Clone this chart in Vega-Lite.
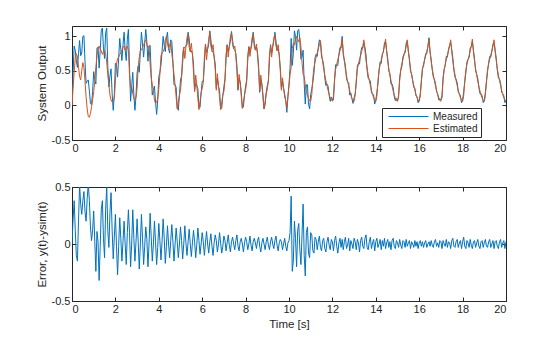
{
"$schema": "https://vega.github.io/schema/vega-lite/v6.json",
"padding": {"left": 35, "top": 25, "right": 5, "bottom": 5},
"background": "white",
"config": {
  "font": "Liberation Sans",
  "view": {"stroke": "#262626", "strokeWidth": 1},
  "axis": {"domain": false, "grid": false, "tickColor": "#262626", "tickSize": -4, "labelPadding": 6, "labelColor": "#262626", "labelFontSize": 11, "titleFontSize": 11.5, "titleFontWeight": "normal", "titleColor": "#262626", "titlePadding": 4},
  "line": {"strokeWidth": 1, "clip": true}
},
"datasets": {"d": [
{"t":0,"m":0,"e":0,"r":0},
{"t":0.05,"m":0.47,"e":0.25,"r":0.22},
{"t":0.1,"m":0.86,"e":0.48,"r":0.38},
{"t":0.15,"m":0.8,"e":0.68,"r":0.12},
{"t":0.2,"m":0.65,"e":0.75,"r":-0.1},
{"t":0.25,"m":0.55,"e":0.7,"r":-0.15},
{"t":0.3,"m":0.75,"e":0.55,"r":0.2},
{"t":0.35,"m":0.94,"e":0.42,"r":0.52},
{"t":0.4,"m":0.72,"e":0.37,"r":0.35},
{"t":0.45,"m":0.76,"e":0.5,"r":0.26},
{"t":0.5,"m":1.0,"e":0.62,"r":0.38},
{"t":0.55,"m":1.01,"e":0.55,"r":0.46},
{"t":0.6,"m":0.63,"e":0.35,"r":0.28},
{"t":0.65,"m":0.32,"e":0.12,"r":0.2},
{"t":0.7,"m":0.35,"e":-0.05,"r":0.4},
{"t":0.75,"m":0.37,"e":-0.16,"r":0.53},
{"t":0.8,"m":0.21,"e":-0.17,"r":0.38},
{"t":0.85,"m":0.03,"e":-0.12,"r":0.15},
{"t":0.9,"m":0.01,"e":-0.02,"r":0.03},
{"t":0.95,"m":0.2,"e":0.08,"r":0.12},
{"t":1.0,"m":0.49,"e":0.2,"r":0.29},
{"t":1.05,"m":0.37,"e":0.35,"r":0.02},
{"t":1.1,"m":0.31,"e":0.55,"r":-0.24},
{"t":1.15,"m":0.83,"e":0.72,"r":0.11},
{"t":1.2,"m":0.84,"e":0.82,"r":0.02},
{"t":1.25,"m":0.54,"e":0.86,"r":-0.32},
{"t":1.3,"m":0.8,"e":0.82,"r":-0.02},
{"t":1.35,"m":1.09,"e":0.79,"r":0.3},
{"t":1.4,"m":1.12,"e":0.74,"r":0.38},
{"t":1.45,"m":0.83,"e":0.78,"r":0.05},
{"t":1.5,"m":0.68,"e":0.8,"r":-0.12},
{"t":1.55,"m":1.05,"e":0.75,"r":0.3},
{"t":1.6,"m":1.12,"e":0.62,"r":0.5},
{"t":1.65,"m":0.57,"e":0.45,"r":0.12},
{"t":1.7,"m":0.27,"e":0.3,"r":-0.03},
{"t":1.75,"m":0.43,"e":0.15,"r":0.28},
{"t":1.8,"m":0.53,"e":0.08,"r":0.45},
{"t":1.85,"m":0.17,"e":0.05,"r":0.12},
{"t":1.9,"m":-0.07,"e":0.06,"r":-0.13},
{"t":1.95,"m":0.16,"e":0.1,"r":0.06},
{"t":2.0,"m":0.61,"e":0.35,"r":0.26},
{"t":2.05,"m":0.58,"e":0.6,"r":-0.02},
{"t":2.1,"m":0.41,"e":0.68,"r":-0.27},
{"t":2.15,"m":0.68,"e":0.7,"r":-0.02},
{"t":2.2,"m":0.97,"e":0.74,"r":0.23},
{"t":2.25,"m":0.81,"e":0.76,"r":0.05},
{"t":2.3,"m":0.65,"e":0.8,"r":-0.15},
{"t":2.35,"m":0.87,"e":0.85,"r":0.02},
{"t":2.4,"m":1.06,"e":0.86,"r":0.2},
{"t":2.45,"m":0.8,"e":0.8,"r":0},
{"t":2.5,"m":0.65,"e":0.83,"r":-0.18},
{"t":2.55,"m":0.96,"e":0.86,"r":0.1},
{"t":2.6,"m":1.1,"e":0.8,"r":0.3},
{"t":2.65,"m":0.55,"e":0.45,"r":0.1},
{"t":2.7,"m":0.06,"e":0.26,"r":-0.2},
{"t":2.75,"m":0.28,"e":0.28,"r":0},
{"t":2.8,"m":0.48,"e":0.18,"r":0.3},
{"t":2.85,"m":0.15,"e":0.1,"r":0.05},
{"t":2.9,"m":-0.07,"e":0.08,"r":-0.15},
{"t":2.95,"m":0.14,"e":0.12,"r":0.02},
{"t":3.0,"m":0.47,"e":0.25,"r":0.22},
{"t":3.05,"m":0.57,"e":0.55,"r":0.02},
{"t":3.1,"m":0.48,"e":0.7,"r":-0.22},
{"t":3.15,"m":0.79,"e":0.79,"r":0},
{"t":3.2,"m":1.06,"e":0.8,"r":0.26},
{"t":3.25,"m":0.89,"e":0.84,"r":0.05},
{"t":3.3,"m":0.7,"e":0.88,"r":-0.18},
{"t":3.35,"m":0.9,"e":0.92,"r":-0.02},
{"t":3.4,"m":1.1,"e":0.95,"r":0.15},
{"t":3.45,"m":0.92,"e":0.88,"r":0.04},
{"t":3.5,"m":0.64,"e":0.84,"r":-0.2},
{"t":3.55,"m":0.86,"e":0.86,"r":0},
{"t":3.6,"m":0.87,"e":0.6,"r":0.27},
{"t":3.65,"m":0.46,"e":0.4,"r":0.06},
{"t":3.7,"m":0.15,"e":0.3,"r":-0.15},
{"t":3.75,"m":0.22,"e":0.22,"r":0},
{"t":3.8,"m":0.28,"e":0.08,"r":0.2},
{"t":3.85,"m":0.05,"e":0.03,"r":0.02},
{"t":3.9,"m":-0.13,"e":0.05,"r":-0.18},
{"t":3.95,"m":0.07,"e":0.1,"r":-0.03},
{"t":4.0,"m":0.42,"e":0.24,"r":0.18},
{"t":4.05,"m":0.48,"e":0.45,"r":0.03},
{"t":4.1,"m":0.58,"e":0.72,"r":-0.14},
{"t":4.15,"m":0.78,"e":0.76,"r":0.02},
{"t":4.2,"m":1.0,"e":0.78,"r":0.22},
{"t":4.25,"m":0.87,"e":0.82,"r":0.05},
{"t":4.3,"m":0.78,"e":0.95,"r":-0.17},
{"t":4.35,"m":0.98,"e":1.0,"r":-0.02},
{"t":4.4,"m":1.06,"e":0.9,"r":0.16},
{"t":4.45,"m":0.82,"e":0.82,"r":0},
{"t":4.5,"m":0.76,"e":0.88,"r":-0.12},
{"t":4.55,"m":0.95,"e":0.92,"r":0.03},
{"t":4.6,"m":0.92,"e":0.75,"r":0.17},
{"t":4.65,"m":0.64,"e":0.62,"r":0.02},
{"t":4.7,"m":0.3,"e":0.45,"r":-0.15},
{"t":4.75,"m":0.3,"e":0.3,"r":0},
{"t":4.8,"m":0.26,"e":0.12,"r":0.14},
{"t":4.85,"m":-0.03,"e":-0.05,"r":0.02},
{"t":4.9,"m":-0.07,"e":0.05,"r":-0.12},
{"t":4.95,"m":0.15,"e":0.15,"r":0},
{"t":5.0,"m":0.37,"e":0.22,"r":0.15},
{"t":5.05,"m":0.43,"e":0.4,"r":0.03},
{"t":5.1,"m":0.62,"e":0.75,"r":-0.13},
{"t":5.15,"m":0.84,"e":0.84,"r":0},
{"t":5.2,"m":0.84,"e":0.68,"r":0.16},
{"t":5.25,"m":0.86,"e":0.85,"r":0.01},
{"t":5.3,"m":0.88,"e":0.98,"r":-0.1},
{"t":5.35,"m":1.06,"e":1.04,"r":0.02},
{"t":5.4,"m":0.97,"e":0.84,"r":0.13},
{"t":5.45,"m":0.78,"e":0.78,"r":0},
{"t":5.5,"m":0.79,"e":0.9,"r":-0.11},
{"t":5.55,"m":0.75,"e":0.74,"r":0.01},
{"t":5.6,"m":0.6,"e":0.48,"r":0.12},
{"t":5.65,"m":0.22,"e":0.2,"r":0.02},
{"t":5.7,"m":0.32,"e":0.44,"r":-0.12},
{"t":5.75,"m":0.29,"e":0.3,"r":-0.01},
{"t":5.8,"m":0.24,"e":0.1,"r":0.14},
{"t":5.85,"m":-0.03,"e":-0.06,"r":0.03},
{"t":5.9,"m":-0.03,"e":0.06,"r":-0.09},
{"t":5.95,"m":0.18,"e":0.18,"r":0},
{"t":6.0,"m":0.35,"e":0.25,"r":0.1},
{"t":6.05,"m":0.35,"e":0.33,"r":0.02},
{"t":6.1,"m":0.6,"e":0.7,"r":-0.1},
{"t":6.15,"m":0.89,"e":0.88,"r":0.01},
{"t":6.2,"m":0.77,"e":0.66,"r":0.11},
{"t":6.25,"m":0.82,"e":0.82,"r":0},
{"t":6.3,"m":0.88,"e":0.96,"r":-0.08},
{"t":6.35,"m":1.08,"e":1.06,"r":0.02},
{"t":6.4,"m":0.95,"e":0.86,"r":0.09},
{"t":6.45,"m":0.78,"e":0.8,"r":-0.02},
{"t":6.5,"m":0.78,"e":0.88,"r":-0.1},
{"t":6.55,"m":0.71,"e":0.7,"r":0.01},
{"t":6.6,"m":0.6,"e":0.52,"r":0.08},
{"t":6.65,"m":0.25,"e":0.22,"r":0.03},
{"t":6.7,"m":0.39,"e":0.46,"r":-0.07},
{"t":6.75,"m":0.28,"e":0.28,"r":0},
{"t":6.8,"m":0.22,"e":0.12,"r":0.1},
{"t":6.85,"m":-0.05,"e":-0.06,"r":0.01},
{"t":6.9,"m":-0.04,"e":0.04,"r":-0.08},
{"t":6.95,"m":0.14,"e":0.16,"r":-0.02},
{"t":7.0,"m":0.27,"e":0.2,"r":0.07},
{"t":7.05,"m":0.39,"e":0.36,"r":0.03},
{"t":7.1,"m":0.68,"e":0.74,"r":-0.06},
{"t":7.15,"m":0.88,"e":0.87,"r":0.01},
{"t":7.2,"m":0.78,"e":0.7,"r":0.08},
{"t":7.25,"m":0.85,"e":0.86,"r":-0.01},
{"t":7.3,"m":0.93,"e":1.0,"r":-0.07},
{"t":7.35,"m":1.07,"e":1.05,"r":0.02},
{"t":7.4,"m":0.94,"e":0.88,"r":0.06},
{"t":7.45,"m":0.82,"e":0.82,"r":0},
{"t":7.5,"m":0.81,"e":0.86,"r":-0.05},
{"t":7.55,"m":0.75,"e":0.72,"r":0.03},
{"t":7.6,"m":0.58,"e":0.5,"r":0.08},
{"t":7.65,"m":0.22,"e":0.24,"r":-0.02},
{"t":7.7,"m":0.39,"e":0.45,"r":-0.06},
{"t":7.75,"m":0.34,"e":0.32,"r":0.02},
{"t":7.8,"m":0.19,"e":0.14,"r":0.05},
{"t":7.85,"m":-0.04,"e":-0.04,"r":0},
{"t":7.9,"m":-0.02,"e":0.05,"r":-0.07},
{"t":7.95,"m":0.16,"e":0.15,"r":0.01},
{"t":8.0,"m":0.28,"e":0.22,"r":0.06},
{"t":8.05,"m":0.37,"e":0.35,"r":0.02},
{"t":8.1,"m":0.67,"e":0.72,"r":-0.05},
{"t":8.15,"m":0.85,"e":0.85,"r":0},
{"t":8.2,"m":0.78,"e":0.71,"r":0.07},
{"t":8.25,"m":0.83,"e":0.84,"r":-0.01},
{"t":8.3,"m":0.92,"e":0.98,"r":-0.06},
{"t":8.35,"m":1.06,"e":1.04,"r":0.02},
{"t":8.4,"m":0.9,"e":0.85,"r":0.05},
{"t":8.45,"m":0.81,"e":0.8,"r":0.01},
{"t":8.5,"m":0.85,"e":0.89,"r":-0.04},
{"t":8.55,"m":0.76,"e":0.73,"r":0.03},
{"t":8.6,"m":0.57,"e":0.51,"r":0.06},
{"t":8.65,"m":0.19,"e":0.21,"r":-0.02},
{"t":8.7,"m":0.37,"e":0.44,"r":-0.07},
{"t":8.75,"m":0.31,"e":0.3,"r":0.01},
{"t":8.8,"m":0.16,"e":0.11,"r":0.05},
{"t":8.85,"m":-0.05,"e":-0.05,"r":0},
{"t":8.9,"m":0.01,"e":0.06,"r":-0.05},
{"t":8.95,"m":0.19,"e":0.17,"r":0.02},
{"t":9.0,"m":0.29,"e":0.23,"r":0.06},
{"t":9.05,"m":0.35,"e":0.36,"r":-0.01},
{"t":9.1,"m":0.68,"e":0.73,"r":-0.05},
{"t":9.15,"m":0.88,"e":0.86,"r":0.02},
{"t":9.2,"m":0.76,"e":0.7,"r":0.06},
{"t":9.25,"m":0.85,"e":0.85,"r":0},
{"t":9.3,"m":0.93,"e":0.97,"r":-0.04},
{"t":9.35,"m":1.06,"e":1.03,"r":0.03},
{"t":9.4,"m":0.93,"e":0.86,"r":0.07},
{"t":9.45,"m":0.79,"e":0.8,"r":-0.01},
{"t":9.5,"m":0.82,"e":0.88,"r":-0.06},
{"t":9.55,"m":0.73,"e":0.72,"r":0.01},
{"t":9.6,"m":0.54,"e":0.5,"r":0.04},
{"t":9.65,"m":0.24,"e":0.22,"r":0.02},
{"t":9.7,"m":0.35,"e":0.4,"r":-0.05},
{"t":9.75,"m":0.25,"e":0.25,"r":0},
{"t":9.8,"m":0.17,"e":0.12,"r":0.05},
{"t":9.85,"m":0.06,"e":0.08,"r":-0.02},
{"t":9.9,"m":-0.1,"e":-0.04,"r":-0.06},
{"t":9.95,"m":0.13,"e":0.12,"r":0.01},
{"t":10.0,"m":0.31,"e":0.28,"r":0.03},
{"t":10.05,"m":0.55,"e":0.45,"r":0.1},
{"t":10.1,"m":0.97,"e":0.55,"r":0.42},
{"t":10.15,"m":0.58,"e":0.82,"r":-0.24},
{"t":10.2,"m":0.75,"e":0.9,"r":-0.15},
{"t":10.25,"m":1.08,"e":0.88,"r":0.2},
{"t":10.3,"m":1.0,"e":0.95,"r":0.05},
{"t":10.35,"m":0.8,"e":1.0,"r":-0.2},
{"t":10.4,"m":1.08,"e":0.96,"r":0.12},
{"t":10.45,"m":1.1,"e":0.92,"r":0.18},
{"t":10.5,"m":0.93,"e":0.98,"r":-0.05},
{"t":10.55,"m":0.67,"e":0.85,"r":-0.18},
{"t":10.6,"m":0.7,"e":0.62,"r":0.08},
{"t":10.65,"m":0.8,"e":0.45,"r":0.35},
{"t":10.7,"m":0.32,"e":0.42,"r":-0.1},
{"t":10.75,"m":0.02,"e":0.3,"r":-0.28},
{"t":10.8,"m":0.3,"e":0.2,"r":0.1},
{"t":10.85,"m":0.3,"e":0.15,"r":0.15},
{"t":10.9,"m":0.02,"e":0.1,"r":-0.08},
{"t":10.95,"m":-0.05,"e":0.07,"r":-0.12},
{"t":11.0,"m":0.16,"e":0.06,"r":0.1},
{"t":11.05,"m":0.24,"e":0.16,"r":0.08},
{"t":11.1,"m":0.34,"e":0.4,"r":-0.06},
{"t":11.15,"m":0.47,"e":0.55,"r":-0.08},
{"t":11.2,"m":0.69,"e":0.63,"r":0.06},
{"t":11.25,"m":0.74,"e":0.7,"r":0.04},
{"t":11.3,"m":0.71,"e":0.76,"r":-0.05},
{"t":11.35,"m":0.84,"e":0.82,"r":0.02},
{"t":11.4,"m":0.95,"e":0.88,"r":0.07},
{"t":11.45,"m":0.91,"e":0.94,"r":-0.03},
{"t":11.5,"m":0.7,"e":0.76,"r":-0.06},
{"t":11.55,"m":0.66,"e":0.63,"r":0.03},
{"t":11.6,"m":0.58,"e":0.53,"r":0.05},
{"t":11.65,"m":0.4,"e":0.44,"r":-0.04},
{"t":11.7,"m":0.29,"e":0.36,"r":-0.07},
{"t":11.75,"m":0.31,"e":0.29,"r":0.02},
{"t":11.8,"m":0.28,"e":0.22,"r":0.06},
{"t":11.85,"m":0.15,"e":0.16,"r":-0.01},
{"t":11.9,"m":0.06,"e":0.11,"r":-0.05},
{"t":11.95,"m":0.12,"e":0.08,"r":0.04},
{"t":12.0,"m":0.08,"e":0.06,"r":0.02},
{"t":12.05,"m":0.08,"e":0.14,"r":-0.06},
{"t":12.1,"m":0.39,"e":0.36,"r":0.03},
{"t":12.15,"m":0.59,"e":0.52,"r":0.07},
{"t":12.2,"m":0.58,"e":0.6,"r":-0.02},
{"t":12.25,"m":0.58,"e":0.66,"r":-0.08},
{"t":12.3,"m":0.74,"e":0.73,"r":0.01},
{"t":12.35,"m":0.84,"e":0.79,"r":0.05},
{"t":12.4,"m":0.83,"e":0.86,"r":-0.03},
{"t":12.45,"m":1.0,"e":0.96,"r":0.04},
{"t":12.5,"m":0.73,"e":0.78,"r":-0.05},
{"t":12.55,"m":0.66,"e":0.64,"r":0.02},
{"t":12.6,"m":0.58,"e":0.52,"r":0.06},
{"t":12.65,"m":0.39,"e":0.43,"r":-0.04},
{"t":12.7,"m":0.34,"e":0.35,"r":-0.01},
{"t":12.75,"m":0.33,"e":0.28,"r":0.05},
{"t":12.8,"m":0.15,"e":0.21,"r":-0.06},
{"t":12.85,"m":0.18,"e":0.15,"r":0.03},
{"t":12.9,"m":0.1,"e":0.1,"r":0},
{"t":12.95,"m":0.03,"e":0.07,"r":-0.04},
{"t":13.0,"m":0.11,"e":0.06,"r":0.05},
{"t":13.05,"m":0.17,"e":0.15,"r":0.02},
{"t":13.1,"m":0.32,"e":0.37,"r":-0.05},
{"t":13.15,"m":0.57,"e":0.53,"r":0.04},
{"t":13.2,"m":0.61,"e":0.6,"r":0.01},
{"t":13.25,"m":0.6,"e":0.67,"r":-0.07},
{"t":13.3,"m":0.75,"e":0.72,"r":0.03},
{"t":13.35,"m":0.84,"e":0.78,"r":0.06},
{"t":13.4,"m":0.83,"e":0.85,"r":-0.02},
{"t":13.45,"m":0.91,"e":0.95,"r":-0.04},
{"t":13.5,"m":0.84,"e":0.79,"r":0.05},
{"t":13.55,"m":0.73,"e":0.65,"r":0.08},
{"t":13.6,"m":0.51,"e":0.54,"r":-0.03},
{"t":13.65,"m":0.39,"e":0.44,"r":-0.05},
{"t":13.7,"m":0.38,"e":0.36,"r":0.02},
{"t":13.75,"m":0.35,"e":0.29,"r":0.06},
{"t":13.8,"m":0.18,"e":0.22,"r":-0.04},
{"t":13.85,"m":0.17,"e":0.16,"r":0.01},
{"t":13.9,"m":0.15,"e":0.11,"r":0.04},
{"t":13.95,"m":0.02,"e":0.08,"r":-0.06},
{"t":14.0,"m":0.08,"e":0.06,"r":0.02},
{"t":14.05,"m":0.19,"e":0.14,"r":0.05},
{"t":14.1,"m":0.32,"e":0.35,"r":-0.03},
{"t":14.15,"m":0.51,"e":0.51,"r":0},
{"t":14.2,"m":0.63,"e":0.59,"r":0.04},
{"t":14.25,"m":0.61,"e":0.66,"r":-0.05},
{"t":14.3,"m":0.75,"e":0.72,"r":0.03},
{"t":14.35,"m":0.77,"e":0.79,"r":-0.02},
{"t":14.4,"m":0.91,"e":0.86,"r":0.05},
{"t":14.45,"m":0.92,"e":0.96,"r":-0.04},
{"t":14.5,"m":0.79,"e":0.78,"r":0.01},
{"t":14.55,"m":0.68,"e":0.64,"r":0.04},
{"t":14.6,"m":0.5,"e":0.53,"r":-0.03},
{"t":14.65,"m":0.46,"e":0.44,"r":0.02},
{"t":14.7,"m":0.31,"e":0.36,"r":-0.05},
{"t":14.75,"m":0.31,"e":0.28,"r":0.03},
{"t":14.8,"m":0.26,"e":0.21,"r":0.05},
{"t":14.85,"m":0.13,"e":0.15,"r":-0.02},
{"t":14.9,"m":0.07,"e":0.11,"r":-0.04},
{"t":14.95,"m":0.1,"e":0.07,"r":0.03},
{"t":15.0,"m":0.07,"e":0.06,"r":0.01},
{"t":15.05,"m":0.12,"e":0.15,"r":-0.03},
{"t":15.1,"m":0.4,"e":0.36,"r":0.04},
{"t":15.15,"m":0.51,"e":0.52,"r":-0.01},
{"t":15.2,"m":0.56,"e":0.6,"r":-0.04},
{"t":15.25,"m":0.7,"e":0.67,"r":0.03},
{"t":15.3,"m":0.75,"e":0.73,"r":0.02},
{"t":15.35,"m":0.76,"e":0.79,"r":-0.03},
{"t":15.4,"m":0.9,"e":0.86,"r":0.04},
{"t":15.45,"m":0.93,"e":0.95,"r":-0.02},
{"t":15.5,"m":0.79,"e":0.78,"r":0.01},
{"t":15.55,"m":0.68,"e":0.65,"r":0.03},
{"t":15.6,"m":0.49,"e":0.53,"r":-0.04},
{"t":15.65,"m":0.46,"e":0.44,"r":0.02},
{"t":15.7,"m":0.36,"e":0.36,"r":0},
{"t":15.75,"m":0.26,"e":0.29,"r":-0.03},
{"t":15.8,"m":0.25,"e":0.22,"r":0.03},
{"t":15.85,"m":0.14,"e":0.16,"r":-0.02},
{"t":15.9,"m":0.13,"e":0.11,"r":0.02},
{"t":15.95,"m":0.04,"e":0.08,"r":-0.04},
{"t":16.0,"m":0.07,"e":0.06,"r":0.01},
{"t":16.05,"m":0.17,"e":0.14,"r":0.03},
{"t":16.1,"m":0.34,"e":0.36,"r":-0.02},
{"t":16.15,"m":0.54,"e":0.52,"r":0.02},
{"t":16.2,"m":0.57,"e":0.6,"r":-0.03},
{"t":16.25,"m":0.67,"e":0.66,"r":0.01},
{"t":16.3,"m":0.75,"e":0.72,"r":0.03},
{"t":16.35,"m":0.75,"e":0.78,"r":-0.03},
{"t":16.4,"m":0.85,"e":0.85,"r":0},
{"t":16.45,"m":0.98,"e":0.96,"r":0.02},
{"t":16.5,"m":0.77,"e":0.79,"r":-0.02},
{"t":16.55,"m":0.67,"e":0.64,"r":0.03},
{"t":16.6,"m":0.52,"e":0.53,"r":-0.01},
{"t":16.65,"m":0.41,"e":0.44,"r":-0.03},
{"t":16.7,"m":0.38,"e":0.36,"r":0.02},
{"t":16.75,"m":0.32,"e":0.28,"r":0.04},
{"t":16.8,"m":0.2,"e":0.22,"r":-0.02},
{"t":16.85,"m":0.17,"e":0.16,"r":0.01},
{"t":16.9,"m":0.08,"e":0.11,"r":-0.03},
{"t":16.95,"m":0.1,"e":0.07,"r":0.03},
{"t":17.0,"m":0.08,"e":0.06,"r":0.02},
{"t":17.05,"m":0.11,"e":0.15,"r":-0.04},
{"t":17.1,"m":0.4,"e":0.37,"r":0.03},
{"t":17.15,"m":0.52,"e":0.52,"r":0},
{"t":17.2,"m":0.58,"e":0.6,"r":-0.02},
{"t":17.25,"m":0.71,"e":0.67,"r":0.04},
{"t":17.3,"m":0.7,"e":0.73,"r":-0.03},
{"t":17.35,"m":0.81,"e":0.79,"r":0.02},
{"t":17.4,"m":0.87,"e":0.86,"r":0.01},
{"t":17.45,"m":0.91,"e":0.95,"r":-0.04},
{"t":17.5,"m":0.81,"e":0.78,"r":0.03},
{"t":17.55,"m":0.69,"e":0.64,"r":0.05},
{"t":17.6,"m":0.51,"e":0.53,"r":-0.02},
{"t":17.65,"m":0.41,"e":0.44,"r":-0.03},
{"t":17.7,"m":0.38,"e":0.36,"r":0.02},
{"t":17.75,"m":0.33,"e":0.29,"r":0.04},
{"t":17.8,"m":0.19,"e":0.22,"r":-0.03},
{"t":17.85,"m":0.17,"e":0.16,"r":0.01},
{"t":17.9,"m":0.14,"e":0.11,"r":0.03},
{"t":17.95,"m":0.04,"e":0.08,"r":-0.04},
{"t":18.0,"m":0.08,"e":0.06,"r":0.02},
{"t":18.05,"m":0.2,"e":0.14,"r":0.06},
{"t":18.1,"m":0.34,"e":0.36,"r":-0.02},
{"t":18.15,"m":0.47,"e":0.51,"r":-0.04},
{"t":18.2,"m":0.63,"e":0.6,"r":0.03},
{"t":18.25,"m":0.67,"e":0.66,"r":0.01},
{"t":18.3,"m":0.69,"e":0.72,"r":-0.03},
{"t":18.35,"m":0.83,"e":0.79,"r":0.04},
{"t":18.4,"m":0.85,"e":0.86,"r":-0.01},
{"t":18.45,"m":0.92,"e":0.96,"r":-0.04},
{"t":18.5,"m":0.8,"e":0.78,"r":0.02},
{"t":18.55,"m":0.67,"e":0.64,"r":0.03},
{"t":18.6,"m":0.5,"e":0.53,"r":-0.03},
{"t":18.65,"m":0.45,"e":0.44,"r":0.01},
{"t":18.7,"m":0.39,"e":0.35,"r":0.04},
{"t":18.75,"m":0.26,"e":0.28,"r":-0.02},
{"t":18.8,"m":0.17,"e":0.21,"r":-0.04},
{"t":18.85,"m":0.17,"e":0.15,"r":0.02},
{"t":18.9,"m":0.14,"e":0.11,"r":0.03},
{"t":18.95,"m":0.04,"e":0.07,"r":-0.03},
{"t":19.0,"m":0.07,"e":0.06,"r":0.01},
{"t":19.05,"m":0.19,"e":0.15,"r":0.04},
{"t":19.1,"m":0.34,"e":0.36,"r":-0.02},
{"t":19.15,"m":0.49,"e":0.52,"r":-0.03},
{"t":19.2,"m":0.62,"e":0.6,"r":0.02},
{"t":19.25,"m":0.71,"e":0.67,"r":0.04},
{"t":19.3,"m":0.7,"e":0.73,"r":-0.03},
{"t":19.35,"m":0.79,"e":0.79,"r":0},
{"t":19.4,"m":0.89,"e":0.86,"r":0.03},
{"t":19.45,"m":0.91,"e":0.95,"r":-0.04},
{"t":19.5,"m":0.8,"e":0.78,"r":0.02},
{"t":19.55,"m":0.68,"e":0.65,"r":0.03},
{"t":19.6,"m":0.51,"e":0.53,"r":-0.02},
{"t":19.65,"m":0.4,"e":0.44,"r":-0.04},
{"t":19.7,"m":0.38,"e":0.36,"r":0.02},
{"t":19.75,"m":0.33,"e":0.29,"r":0.04},
{"t":19.8,"m":0.19,"e":0.22,"r":-0.03},
{"t":19.85,"m":0.17,"e":0.16,"r":0.01},
{"t":19.9,"m":0.14,"e":0.11,"r":0.03},
{"t":19.95,"m":0.04,"e":0.08,"r":-0.04},
{"t":20.0,"m":0.08,"e":0.06,"r":0.02}
]},
"data": {"name": "d"},
"bounds": "flush",
"spacing": 47,
"resolve": {"legend": {"color": "independent"}},
"vconcat": [
  {
    "width": 434, "height": 114,
    "layer": [
      {
        "mark": {"type": "line", "clip": true},
        "encoding": {
          "x": {"field": "t", "type": "quantitative", "scale": {"domain": [0, 20], "nice": false}, "axis": {"orient": "bottom", "values": [0,2,4,6,8,10,12,14,16,18,20], "title": null}},
          "y": {"field": "m", "type": "quantitative", "scale": {"domain": [-0.5, 1.15], "nice": false, "zero": false}, "axis": {"orient": "left", "values": [-0.5, 0, 0.5, 1], "title": "System Output", "labelExpr": "datum.value < 0 ? '-' + format(-datum.value, '') : format(datum.value, '')"}},
          "color": {"datum": "Measured", "type": "nominal", "scale": {"domain": ["Measured", "Estimated"], "range": ["#0072BD", "#D95319"]},
            "legend": {"orient": "none", "legendX": 310, "legendY": 82, "title": null, "symbolType": "M-4,0H4", "symbolSize": 100, "symbolOffset": 18, "labelOffset": 19, "symbolStrokeWidth": 1.2, "labelFontSize": 10, "labelColor": "#262626", "fillColor": "white", "strokeColor": "#262626", "padding": 3, "rowPadding": 1, "labelExpr": "datum.label + '\u00a0\u00a0\u00a0\u00a0\u00a0\u00a0\u00a0'"}}
        }
      },
      {
        "mark": {"type": "line", "clip": true},
        "encoding": {
          "x": {"field": "t", "type": "quantitative", "axis": {"orient": "top", "values": [0,2,4,6,8,10,12,14,16,18,20], "labels": false, "title": null}},
          "y": {"field": "e", "type": "quantitative", "axis": {"orient": "right", "values": [-0.5, 0, 0.5, 1], "labels": false, "title": null}},
          "color": {"datum": "Estimated", "type": "nominal"}
        }
      }
    ]
  },
  {
    "width": 434, "height": 114,
    "layer": [
      {
        "mark": {"type": "line", "clip": true, "color": "#0072BD"},
        "encoding": {
          "x": {"field": "t", "type": "quantitative", "scale": {"domain": [0, 20], "nice": false}, "axis": {"orient": "bottom", "values": [0,2,4,6,8,10,12,14,16,18,20], "title": "Time [s]"}},
          "y": {"field": "r", "type": "quantitative", "scale": {"domain": [-0.5, 0.5], "nice": false}, "axis": {"orient": "left", "values": [-0.5, 0, 0.5], "title": "Error, y(t)-ysim(t)", "labelExpr": "datum.value < 0 ? '-' + format(-datum.value, '') : format(datum.value, '')"}}
        }
      },
      {
        "mark": {"type": "line", "clip": true, "strokeOpacity": 0},
        "encoding": {
          "x": {"field": "t", "type": "quantitative", "axis": {"orient": "top", "values": [0,2,4,6,8,10,12,14,16,18,20], "labels": false, "title": null}},
          "y": {"field": "r", "type": "quantitative", "axis": {"orient": "right", "values": [-0.5, 0, 0.5], "labels": false, "title": null}}
        }
      }
    ]
  }
]
}
